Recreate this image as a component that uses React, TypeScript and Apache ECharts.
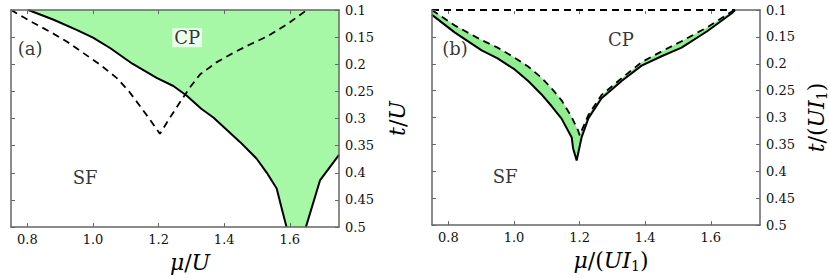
import React, { useEffect, useRef } from "react";
import * as echarts from "echarts";

// ---- axis settings ----
const X_MIN = 0.75;
const X_MAX = 1.75;
const Y_MIN = 0.1;
const Y_MAX = 0.5;
const X_TICKS = [0.8, 1.0, 1.2, 1.4, 1.6];
const Y_INTERVAL = 0.05;

// ---- panel (a) ----
const A_SOLID_LEFT_MU = [0.803, 0.88, 0.95, 1.0, 1.052, 1.12, 1.194, 1.245, 1.286, 1.33, 1.367, 1.41, 1.448, 1.499, 1.53, 1.56, 1.575, 1.59];
const A_SOLID_LEFT_T = [0.1, 0.118, 0.1365, 0.151, 0.17, 0.199, 0.225, 0.24, 0.258, 0.282, 0.298, 0.322, 0.343, 0.374, 0.4, 0.429, 0.465, 0.5];
const A_SOLID_RIGHT_MU = [1.649, 1.692, 1.75];
const A_SOLID_RIGHT_T = [0.5, 0.414, 0.367];
const A_DASH_MU = [0.75, 0.81, 0.869, 0.92, 0.97, 1.02, 1.072, 1.11, 1.143, 1.175, 1.204, 1.235, 1.265, 1.295, 1.326, 1.375, 1.428, 1.48, 1.53, 1.59, 1.652];
const A_DASH_T = [0.1, 0.121, 0.14, 0.158, 0.179, 0.2, 0.225, 0.25, 0.277, 0.303, 0.328, 0.298, 0.27, 0.243, 0.219, 0.197, 0.179, 0.163, 0.149, 0.127, 0.1];

// ---- panel (b) ----
const B_SOLID_MU = [0.75, 0.82, 0.9015, 0.95, 1.003, 1.045, 1.084, 1.115, 1.145, 1.176, 1.18, 1.191, 1.198, 1.206, 1.227, 1.267, 1.33, 1.389, 1.45, 1.511, 1.59, 1.664, 1.674];
const B_SOLID_T = [0.109, 0.142, 0.175, 0.19, 0.211, 0.233, 0.257, 0.279, 0.302, 0.337, 0.357, 0.38, 0.36, 0.337, 0.301, 0.264, 0.231, 0.2035, 0.186, 0.17, 0.139, 0.106, 0.1];
const B_DASH_MU = [0.75, 0.82, 0.9015, 0.95, 1.003, 1.045, 1.084, 1.115, 1.145, 1.175, 1.196, 1.2, 1.227, 1.267, 1.33, 1.389, 1.45, 1.511, 1.59, 1.664, 1.674];
const B_DASH_T = [0.1, 0.129, 0.156, 0.17, 0.189, 0.206, 0.226, 0.246, 0.268, 0.298, 0.325, 0.333, 0.295, 0.258, 0.226, 0.197, 0.177, 0.158, 0.132, 0.103, 0.1];
const B_TOP_MU = [0.75, 1.674];
const B_TOP_T = [0.1, 0.1];

// ---- region labels ----
const A_LABELS = [
  { name: "CP", mu: 1.287, t: 0.151, bg: true },
  { name: "SF", mu: 0.976, t: 0.409, bg: false },
  { name: "(a)", mu: 0.808, t: 0.171, bg: false },
];
const B_LABELS = [
  { name: "CP", mu: 1.326, t: 0.155, bg: false },
  { name: "SF", mu: 0.973, t: 0.409, bg: false },
  { name: "(b)", mu: 0.82, t: 0.171, bg: false },
];

const SERIF = "DejaVu Serif";
const AXIS_COLOR = "#666";
const FILL_A = "#a6f7a6";
const FILL_B = "#90ee90";

const zip = (xs: number[], ys: number[]) => xs.map((x, i) => [x, ys[i]]);

const nameRich = {
  it: { fontFamily: SERIF, fontStyle: "italic", fontSize: 22, color: "#000" },
  rm: { fontFamily: SERIF, fontSize: 22, color: "#000" },
  sub: { fontFamily: SERIF, fontSize: 14, color: "#000", padding: [12, 0, 0, 0] },
};

function xAxes(gridIndex: number, name: string, topZ: number) {
  const common = {
    type: "value",
    gridIndex,
    min: X_MIN,
    max: X_MAX,
    z: 5,
    splitLine: { show: false },
    axisLine: { show: true, onZero: false, lineStyle: { color: AXIS_COLOR, width: 1.5 } },
    axisTick: { show: true, inside: true, length: 4, customValues: X_TICKS, lineStyle: { color: AXIS_COLOR, width: 1 } },
  };
  return [
    {
      ...common,
      position: "bottom",
      name,
      nameLocation: "middle",
      nameGap: 16,
      nameTextStyle: { rich: nameRich, padding: [0, 0, 0, 30] },
      axisLabel: {
        customValues: X_TICKS,
        formatter: (v: number) => v.toFixed(1),
        fontFamily: SERIF,
        fontSize: 13,
        color: "#111",
        margin: 6,
      },
    },
    {
      ...common,
      z: topZ,
      position: "top",
      axisLabel: { show: false },
    },
  ];
}

function yAxes(gridIndex: number, name: string, gap: number) {
  const common = {
    type: "value",
    gridIndex,
    min: Y_MIN,
    max: Y_MAX,
    interval: Y_INTERVAL,
    inverse: true,
    z: 5,
    splitLine: { show: false },
    axisLine: { show: true, onZero: false, lineStyle: { color: AXIS_COLOR, width: 1.5 } },
    axisTick: { show: true, inside: true, length: 4, lineStyle: { color: AXIS_COLOR, width: 1 } },
  };
  return [
    {
      ...common,
      position: "right",
      name,
      nameLocation: "middle",
      nameRotate: 90,
      nameGap: gap,
      nameTextStyle: { rich: nameRich },
      axisLabel: {
        formatter: (v: number) => String(parseFloat(v.toFixed(2))),
        fontFamily: SERIF,
        fontSize: 13,
        color: "#111",
        margin: 6,
        showMinLabel: true,
        showMaxLabel: true,
      },
    },
    {
      ...common,
      position: "left",
      axisLabel: { show: false },
    },
  ];
}

function fillSeries(xi: number, yi: number, poly: number[][], color: string) {
  return {
    type: "custom",
    xAxisIndex: xi,
    yAxisIndex: yi,
    z: 1,
    silent: true,
    data: [poly[0]],
    encode: { x: 0, y: 1 },
    renderItem: (params: any, api: any) => {
      if (params.dataIndex !== 0) return null;
      const points = poly.map((p) => api.coord(p));
      return { type: "polygon", shape: { points }, style: { fill: color, stroke: "none" } };
    },
  };
}

function lineSeries(xi: number, yi: number, data: number[][], dashed: boolean, color = "#000", width?: number) {
  return {
    type: "line",
    xAxisIndex: xi,
    yAxisIndex: yi,
    z: 3,
    silent: true,
    showSymbol: false,
    symbol: "none",
    data,
    lineStyle: { color, width: width ?? (dashed ? 1.8 : 2), type: dashed ? [7, 5] : "solid" },
  };
}

function labelSeries(xi: number, yi: number, labels: typeof A_LABELS) {
  return {
    type: "scatter",
    xAxisIndex: xi,
    yAxisIndex: yi,
    z: 4,
    silent: true,
    symbolSize: 0,
    data: labels.map((l) => ({
      name: l.name,
      value: [l.mu, l.t],
      label: {
        show: true,
        position: "inside",
        formatter: "{b}",
        fontFamily: SERIF,
        fontSize: 18,
        color: "#000",
        backgroundColor: l.bg ? "#fff" : "transparent",
        padding: l.bg ? [1, 2, 0, 2] : 0,
      },
    })),
  };
}

export default function App() {
  const ref = useRef<HTMLDivElement>(null);
  useEffect(() => {
    if (!ref.current) return;
    const chart = echarts.init(ref.current, undefined, { renderer: "svg" });

    const aLeft = zip(A_SOLID_LEFT_MU, A_SOLID_LEFT_T);
    const aRight = zip(A_SOLID_RIGHT_MU, A_SOLID_RIGHT_T);
    const aDash = zip(A_DASH_MU, A_DASH_T);
    const aPoly = [...aLeft, ...aRight, [X_MAX, Y_MIN]];

    const bSolid = zip(B_SOLID_MU, B_SOLID_T);
    const bDash = zip(B_DASH_MU, B_DASH_T);
    const bTop = zip(B_TOP_MU, B_TOP_T);
    const bPoly = [...bDash, ...bSolid.slice().reverse()];

    chart.setOption({
      animation: false,
      backgroundColor: "#fff",
      grid: [
        { left: 11, top: 10, width: 328, height: 219 },
        { left: 432, top: 10, width: 328, height: 219 },
      ],
      xAxis: [...xAxes(0, "{it|μ}{rm|/}{it|U}", 5), ...xAxes(1, "{it|μ}{rm|/(}{it|UI}{sub|1}{rm|)}", 0)],
      yAxis: [...yAxes(0, "{it|t}{rm|/}{it|U}", 47), ...yAxes(1, "{it|t}{rm|/(}{it|UI}{sub|1}{rm|)}", 43)],
      series: [
        fillSeries(0, 0, aPoly, FILL_A),
        lineSeries(0, 0, aLeft, false),
        lineSeries(0, 0, aRight, false),
        lineSeries(0, 0, aDash, true),
        labelSeries(0, 0, A_LABELS),
        fillSeries(2, 2, bPoly, FILL_B),
        lineSeries(2, 2, bSolid, false),
        lineSeries(2, 2, bDash, true),
        { ...lineSeries(2, 2, bTop, false, "#fff", 2.5), z: 2 },
        lineSeries(2, 2, bTop, true),
        labelSeries(2, 2, B_LABELS),
      ],
    });
    return () => chart.dispose();
  }, []);
  return (
    <div
      ref={ref}
      style={{ position: "fixed", left: 0, top: 0, width: 830, height: 278 }}
    />
  );
}
